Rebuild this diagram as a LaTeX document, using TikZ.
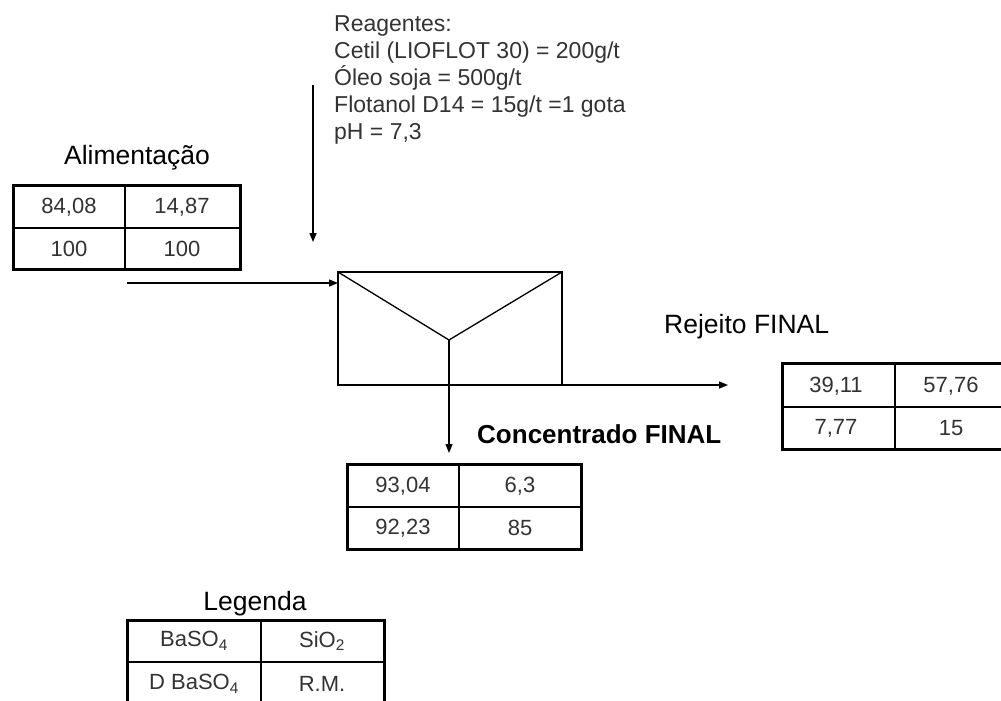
\documentclass[tikz,border=0pt]{standalone}
\usepackage{fontspec}
\setmainfont{Liberation Sans}
\usetikzlibrary{arrows.meta}
\definecolor{txt}{HTML}{333333}
\begin{document}
\begin{tikzpicture}[x=1pt,y=-1pt,
  flow/.style={line width=1.4pt,-{Triangle[length=9pt,width=7pt]}},
  outer/.style={line width=3pt},
  inner/.style={line width=1.3pt},
  cell/.style={inner sep=0pt,text=txt,font=\fontsize{22}{24}\selectfont},
  title/.style={inner sep=0pt,font=\fontsize{26.5}{30}\selectfont},
  leg/.style={inner sep=0pt,text=txt,font=\fontsize{22}{24}\selectfont}]
\clip (0,0) rectangle (1001,701);
\fill[white] (0,0) rectangle (1001,701);

% Reagentes
\node[anchor=north west,inner sep=0pt,align=left,text=txt,font=\fontsize{23}{27}\selectfont] (reag) at (334,15)
 {Reagentes:\\Cetil (LIOFLOT 30) = 200g/t\\Óleo soja = 500g/t\\Flotanol D14 = 15g/t =1 gota\\pH = 7,3};
\coordinate (rs) at (313,85);
\coordinate (re) at (313,242);
\draw[flow] (rs) -- (re);

% Alimentacao
\node[title,anchor=base] (talim) at (137,164) {Alimentação};
\draw[inner] (13,228) -- (240,228) (125,185) -- (125,269);
\draw[outer] (13,185) rectangle (240,269);
\node[cell] (a1) at (69,207) {84,08};
\node[cell] (a2) at (182,207) {14,87};
\node[cell] (a3) at (69,249) {100};
\node[cell] (a4) at (182,249) {100};
\coordinate (fs) at (127,283);

% Flotation cell
\draw[line width=1.3pt] (338,272) rectangle (562,385);
\coordinate (apex) at (449,340);
\draw[line width=1.3pt] (338,272) -- (apex) -- (562,272);
\coordinate (cellin) at (338,283);
\coordinate (cellout) at (562,385);
\draw[flow] (fs) -- (cellin);
\coordinate (conce) at (449,453);
\draw[flow] (apex) -- (conce);
\coordinate (reje) at (728,385);
\draw[flow] (cellout) -- (reje);

% Rejeito
\node[title,anchor=base west] (trej) at (664,333) {Rejeito FINAL};
\draw[inner] (782,407) -- (1010,407) (895,363) -- (895,449);
\draw[outer] (782,363) rectangle (1012,449);
\node[cell] (r1) at (836,386) {39,11};
\node[cell] (r2) at (951,386) {57,76};
\node[cell] (r3) at (836,428) {7,77};
\node[cell] (r4) at (951,428) {15};

% Concentrado
\node[inner sep=0pt,anchor=base west,font=\fontsize{26}{30}\selectfont\bfseries] (tcon) at (477,443) {Concentrado FINAL};
\draw[inner] (347,507) -- (581,507) (459,464) -- (459,549);
\draw[outer] (347,464) rectangle (581,549);
\node[cell] (c1) at (403,486) {93,04};
\node[cell] (c2) at (520,486) {6,3};
\node[cell] (c3) at (403,528) {92,23};
\node[cell] (c4) at (520,528) {85};

% Legenda
\node[title,anchor=base] (tleg) at (255,610) {Legenda};
\draw[inner] (127,662) -- (384,662) (261,620) -- (261,712);
\draw[outer] (127,620) rectangle (384,712);
\node[leg] (l1) at (194,641) {BaSO\textsubscript{4}};
\node[leg] (l2) at (322,641) {SiO\textsubscript{2}};
\node[leg] (l3) at (194,684) {D BaSO\textsubscript{4}};
\node[leg] (l4) at (322,684) {R.M.};
\end{tikzpicture}
\end{document}
